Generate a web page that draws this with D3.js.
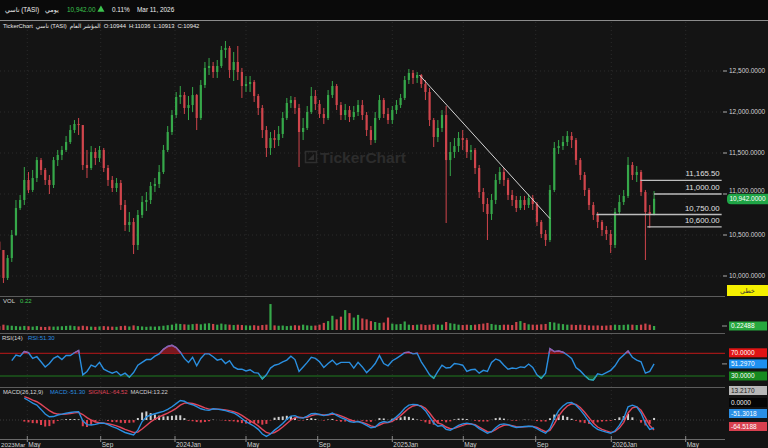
<!DOCTYPE html>
<html><head><meta charset="utf-8">
<script src="https://cdn.jsdelivr.net/npm/d3@7"></script>
<style>
html,body{margin:0;padding:0;background:#141414;}
svg{display:block;}
</style></head><body>
<svg id="c" width="768" height="448"></svg>
<script>
// ---------------- DATA (weekly) ----------------
const startDate = "2023-03-15";
const firstOpen = 10420;
const close = [10317,9976,10219,10500,10829,10927,11171,11049,11195,11414,
11293,11171,11110,11414,11476,11537,11634,11780,11854,11841,
11354,11317,11512,11439,11537,11317,11171,11073,11134,10866,
10622,10659,10378,10744,10902,10927,11098,11122,11268,11537,
11756,11963,12183,12207,12049,12085,12207,11927,12329,12537,
12561,12488,12561,12756,12781,12512,12610,12488,12317,12341,
12366,12195,12049,11780,11561,11683,11658,11732,11927,12110,
12146,12049,11756,11805,12000,12195,12098,11976,11927,12207,
12317,12085,11963,12024,11939,12000,12085,11963,11780,11658,
11927,12146,11976,11902,12024,12085,12171,12390,12476,12415,
12451,12341,12244,11902,11695,11805,11963,11414,11512,11585,
11683,11658,11512,11537,11317,11024,10878,10756,10927,11171,
11268,11171,10988,10927,10829,10927,10866,10951,10878,10659,
10512,10439,11049,11561,11585,11634,11707,11658,11414,11232,
11049,10866,10744,10659,10561,10512,10378,10780,10902,10976,
11354,11232,11268,11024,10780,10744,10942];
const high = [10476,10317,10256,10561,10927,10988,11329,11268,11293,11451,
11439,11317,11232,11451,11537,11585,11707,11841,11902,11927,
11841,11537,11585,11561,11585,11561,11354,11219,11195,11171,
10927,10780,10707,10805,10976,11024,11146,11195,11354,11598,
11829,12024,12244,12317,12244,12195,12305,12220,12390,12610,
12659,12610,12634,12805,12866,12805,12732,12805,12537,12439,
12439,12390,12220,12085,11829,11756,11780,11829,12000,12171,
12195,12183,12098,11927,12073,12305,12268,12146,12049,12268,
12378,12341,12122,12098,12073,12073,12146,12146,12000,11829,
12000,12207,12171,12049,12073,12146,12220,12439,12524,12512,
12488,12463,12390,12293,11927,11902,12024,12073,11634,11683,
11756,11780,11683,11598,11561,11354,11073,10951,11000,11244,
11329,11317,11195,11049,10976,10976,10976,11000,10988,10902,
10683,10561,11110,11634,11658,11707,11768,11756,11683,11439,
11268,11073,10902,10780,10683,10610,10561,10829,10988,11049,
11451,11390,11341,11293,11049,10866,11036];
const low = [10256,9915,9951,10171,10488,10805,10866,11012,11024,11146,
11232,11110,11000,11073,11341,11414,11512,11610,11744,11720,
11293,11195,11293,11354,11390,11268,11098,11024,11024,10805,
10549,10537,10268,10317,10707,10793,10878,11024,11073,11244,
11512,11720,11927,12098,11976,11902,12000,11780,11902,12293,
12451,12415,12415,12537,12659,12415,12378,12390,12171,12244,
12244,12122,11963,11683,11451,11476,11561,11585,11683,11902,
12049,11976,11329,11658,11780,11976,12024,11927,11854,11902,
12171,12024,11902,11902,11878,11902,11951,11902,11707,11598,
11622,11902,11927,11854,11854,11976,12049,12146,12341,12341,
12354,12293,12146,11829,11573,11634,11756,10646,11219,11439,
11512,11537,11439,11414,11244,10951,10780,10439,10683,10878,
11122,11098,10927,10854,10780,10805,10805,10829,10805,10610,
10463,10366,10415,11024,11488,11537,11585,11561,11354,11171,
10976,10805,10683,10585,10488,10439,10280,10341,10744,10866,
10951,11171,11146,10976,10195,10585,10740];
const volume = [0.22,0.30,0.26,0.24,0.22,0.20,0.23,0.21,0.19,0.22,
0.18,0.17,0.20,0.19,0.20,0.21,0.23,0.25,0.22,0.20,
0.24,0.21,0.19,0.18,0.20,0.22,0.20,0.19,0.18,0.22,
0.24,0.20,0.26,0.22,0.20,0.18,0.20,0.19,0.21,0.24,
0.27,0.30,0.36,0.34,0.32,0.30,0.33,0.35,0.32,0.36,
0.38,0.34,0.30,0.36,0.32,0.30,0.28,0.30,0.28,0.26,
0.25,0.27,0.24,0.28,0.30,1.46,0.26,0.24,0.25,0.22,
0.24,0.27,0.25,0.30,0.26,0.24,0.25,0.30,0.40,0.50,
0.80,0.60,0.75,1.12,0.95,0.70,0.85,0.65,0.60,0.50,
0.45,0.40,0.42,0.70,0.36,0.32,0.34,0.48,0.30,0.28,
0.30,0.32,0.28,0.30,0.33,0.30,0.30,0.45,0.38,0.35,
0.30,0.28,0.30,0.28,0.30,0.33,0.36,0.40,0.34,0.30,
0.28,0.30,0.30,0.28,0.45,0.50,0.40,0.32,0.30,0.30,
0.32,0.34,0.45,0.42,0.36,0.33,0.30,0.30,0.28,0.30,
0.28,0.26,0.25,0.26,0.24,0.25,0.27,0.30,0.28,0.29,
0.31,0.30,0.28,0.30,0.36,0.30,0.22488];
const rsi = [null,null,null,57,67,65,73,71,61,64,
55,46,52,61,65,59,66,66,71,75,
32,38,49,46,54,42,38,35,38,31,
35,28,36,49,54,59,59,65,69,77,
82,84,80,72,61,54,63,48,61,69,
69,64,58,60,52,57,46,42,42,39,
41,36,35,25,32,44,49,51,55,58,
65,59,38,46,54,63,61,55,45,52,
58,50,54,54,54,44,54,46,36,43,
52,66,52,48,57,61,66,71,72,69,
70,55,44,32,26,38,49,44,45,52,
51,49,38,41,42,35,40,38,54,60,
57,49,42,44,43,46,45,51,45,32,
26,35,78,73,74,72,67,61,45,39,
31,24,23,34,32,36,40,48,60,67,
74,63,58,55,35,38,51.297];
const macd = [null,null,null,null,null,null,140,125,108,96,
68,38,21,22,32,38,43,48,52,53,
-5,-30,-32,-28,-21,-20,-30,-43,-52,-66,
-80,-88,-96,-65,-10,20,32,40,48,55,
68,85,105,125,120,105,98,85,72,65,
62,72,70,66,60,52,45,30,10,-11,
-25,-40,-60,-90,-105,-90,-65,-45,-22,5,
25,28,15,12,25,40,42,35,28,35,
45,30,15,5,-10,-15,-10,-20,-35,-50,
-45,-20,-10,-15,0,20,45,75,95,100,
98,85,60,20,-20,-40,-35,-60,-65,-50,
-35,-25,-20,-25,-35,-55,-70,-85,-75,-50,
-30,-25,-30,-40,-48,-45,-42,-40,-42,-55,
-72,-85,-55,10,60,90,110,112,95,65,
30,-10,-40,-60,-70,-78,-85,-70,-35,10,
85,95,85,45,-20,-60,-51.30];
const signal = [null,null,null,null,null,null,150,140,128,117,
100,80,60,45,38,36,38,42,46,49,
35,15,0,-12,-18,-20,-24,-30,-38,-48,
-60,-70,-80,-78,-58,-35,-12,5,20,32,
44,58,75,95,108,110,106,98,88,78,
70,70,70,68,65,60,54,44,30,12,
-5,-20,-38,-60,-80,-87,-80,-65,-45,-22,
0,15,18,15,18,28,35,36,32,32,
38,36,26,15,3,-7,-10,-15,-25,-38,
-44,-32,-20,-16,-8,8,28,52,75,90,
95,90,75,45,10,-18,-28,-45,-56,-54,
-44,-34,-26,-25,-30,-45,-60,-75,-76,-62,
-45,-34,-31,-36,-43,-45,-44,-41,-41,-48,
-62,-75,-66,-25,25,62,90,104,100,80,
50,15,-20,-45,-60,-70,-79,-75,-52,-15,
45,78,85,62,15,-35,-64.52];

const priceTicks = [10000,10500,11000,11500,12000,12500];
const xTickDates = ["2023-05-01","2023-09-01","2024-01-01","2024-05-01","2024-09-01","2025-01-01","2025-05-01","2025-09-01","2026-01-01","2026-05-01"];
const xTickLabels = ["May","Sep","2024Jan","May","Sep","2025Jan","May","Sep","2026Jan","May"];
const firstTickLabel = "2023Mar";
const trendLine = [{date:"2025-02-16", value:12450},{date:"2025-09-24", value:10700}];
const levelValues = [11165.5, 11000, 10750, 10600];
const levelStarts = ["2026-02-17","2026-03-11","2025-12-08","2026-02-28"];
const levelEnd = "2026-06-28";
const lastPrice = 10942, lastVol = 0.22488, lastRsi = 51.297;
const macdTags = [{t:"13.2170",bg:"#b8b8b8",fg:"#1a1a1a"},{t:"0.0000",bg:"#050505",fg:"#eeeeee"},{t:"-51.3018",bg:"#2a8fe6",fg:"#ffffff"},{t:"-64.5188",bg:"#d8404f",fg:"#ffffff"}];

// ---------------- LAYOUT ----------------
const W = 768, H = 448, PR = 725;
const FONT = "'Liberation Sans','DejaVu Sans',sans-serif";
const parse = d3.utcParse("%Y-%m-%d");
const dates = close.map((_, i) => d3.utcDay.offset(parse(startDate), 7 * i));
const data = close.map((c, i) => {
  const o = i ? close[i - 1] : firstOpen;
  return {date: dates[i], open: o, close: c,
    high: Math.max(high[i], o, c), low: Math.min(low[i], o, c),
    vol: volume[i], rsi: rsi[i], macd: macd[i], signal: signal[i],
    hist: (macd[i] != null && signal[i] != null) ? macd[i] - signal[i] : null};
});

// trading-day based axis, calibrated at the month ticks
const x = d3.scaleUtc().domain(xTickDates.map(parse)).range([27.3,100.7,175,246,317.7,392.3,463.3,535.7,611.3,685.7]);
const yP = d3.scaleLinear().domain([10000, 12500]).range([276, 71]);
const yV = d3.scaleLinear().domain([0, 1.8]).range([330, 298]);
const yR = d3.scaleLinear().domain([30, 70]).range([376, 353.3]);
const yM = d3.scaleLinear().domain([-100, 200]).range([435.6, 388.8]);

const UP = "#36a84a", DN = "#d0454c";
const svg = d3.select("#c").attr("font-family", FONT);
svg.append("rect").attr("width", W).attr("height", H).attr("fill", "#141414");
const defs = svg.append("defs");
function clip(id, x0, y0, w, h) {
  defs.append("clipPath").attr("id", id).append("rect").attr("x", x0).attr("y", y0).attr("width", w).attr("height", h);
  return "url(#" + id + ")";
}
const cPrice = clip("cp", 0, 21, PR, 275);
const cVol = clip("cv", 0, 297, PR, 36);
const cRsi = clip("cr", 0, 334, PR, 53);
const cMacd = clip("cm", 0, 388, PR, 50);
const cAbove = clip("ca", 0, 334, PR, yR(70) - 334);
const cBelow = clip("cb", 0, yR(30), PR, 387 - yR(30));

function txt(g, xx, yy, s, fill, size, anchor, weight) {
  return g.append("text").attr("x", xx).attr("y", yy).text(s).attr("fill", fill)
    .attr("font-size", size || 6.5).attr("text-anchor", anchor || "start").attr("font-weight", weight || "normal");
}
// place texts of a row left to right, never overlapping
function row(yy, size, items) {
  let end = -1e9;
  items.forEach(it => {
    if (it.tri) {
      const cx = end + 5.5;
      svg.append("path").attr("d", d3.symbol(d3.symbolTriangle, 22)()).attr("transform", `translate(${cx},${yy - 2.4})`).attr("fill", it.fill);
      end = cx + 3.5; return;
    }
    const xx = Math.max(it.x, end + 3);
    const t = txt(svg, xx, yy, it.s, it.fill, size);
    end = xx + t.node().getComputedTextLength();
  });
}

// header
svg.append("rect").attr("width", W).attr("height", 20).attr("fill", "#0a0a0a");
svg.append("line").attr("x1", 0).attr("x2", W).attr("y1", 20.5).attr("y2", 20.5).attr("stroke", "#8c8c8c");
row(12, 6.4, [{x:5,s:"تاسي (TASI)",fill:"#f0f0f0"},{x:45,s:"يومي",fill:"#f0f0f0"},{x:67,s:"10,942.00",fill:"#3cc44e"},
  {tri:true,fill:"#3cc44e"},{x:112,s:"0.11%",fill:"#f0f0f0"},{x:137,s:"Mar 11, 2026",fill:"#f0f0f0"}]);
row(28, 5.8, [{x:3,s:"TickerChart",fill:"#e8e8e8"},{x:28,s:"تاسي (TASI)",fill:"#e8e8e8"},{x:53,s:"المؤشر العام",fill:"#e8e8e8"},
  {x:97,s:"O:10944",fill:"#e8e8e8"},{x:125,s:"H:11036",fill:"#e8e8e8"},{x:148,s:"L:10913",fill:"#e8e8e8"},{x:172,s:"C:10942",fill:"#e8e8e8"}]);

// grid
const grid = svg.append("g").attr("stroke", "#2a2a2a").attr("stroke-dasharray", "1,3");
priceTicks.forEach(v => grid.append("line").attr("x1", 0).attr("x2", PR).attr("y1", yP(v)).attr("y2", yP(v)));
xTickDates.forEach(d => {
  const xx = x(parse(d));
  if (xx < PR) grid.append("line").attr("x1", xx).attr("x2", xx).attr("y1", 22).attr("y2", 438);
});

// watermark
const wm = svg.append("g");
wm.append("rect").attr("x", 305.5).attr("y", 151.5).attr("width", 11).attr("height", 11).attr("fill", "none").attr("stroke", "#2e2e2e").attr("stroke-width", 1.5);
wm.append("path").attr("d", "M308,160 L314,154 L314,160 Z").attr("fill", "#2e2e2e");
txt(wm, 320, 163, "TickerChart", "#2c2c2c", 15.5, "start", "bold");

// separators
[296.5, 333.5, 387.5].forEach(yy => svg.append("line").attr("x1", 0).attr("x2", PR).attr("y1", yy).attr("y2", yy).attr("stroke", "#5c5c5c"));

// candles
const cw = 2.2;
const pg = svg.append("g").attr("clip-path", cPrice);
const cg = pg.selectAll("g.c").data(data).enter().append("g");
cg.append("line").attr("x1", d => x(d.date)).attr("x2", d => x(d.date))
  .attr("y1", d => yP(d.high)).attr("y2", d => yP(d.low))
  .attr("stroke", d => d.close >= d.open ? UP : DN).attr("stroke-width", 1);
cg.append("rect").attr("x", d => x(d.date) - cw / 2).attr("width", cw)
  .attr("y", d => yP(Math.max(d.open, d.close)))
  .attr("height", d => Math.max(1, Math.abs(yP(d.open) - yP(d.close))))
  .attr("fill", d => d.close >= d.open ? UP : DN);

// trend line
pg.append("line").attr("x1", x(parse(trendLine[0].date))).attr("y1", yP(trendLine[0].value))
  .attr("x2", x(parse(trendLine[1].date))).attr("y2", yP(trendLine[1].value))
  .attr("stroke", "#d4d4d4").attr("stroke-width", 1);

// levels
const xEnd = x(parse(levelEnd));
levelValues.forEach((v, i) => {
  pg.append("line").attr("x1", x(parse(levelStarts[i]))).attr("x2", xEnd).attr("y1", yP(v)).attr("y2", yP(v))
    .attr("stroke", "#bdbdbd").attr("stroke-width", 1.3);
  txt(svg, xEnd - 2, yP(v) - 4, d3.format(",.2f")(v), "#e0e0e0", 7.8, "end");
});

// price axis
priceTicks.forEach(v => {
  svg.append("line").attr("x1", 723).attr("x2", 727).attr("y1", yP(v)).attr("y2", yP(v)).attr("stroke", "#aaaaaa");
  txt(svg, 729, yP(v) + (v === 11000 ? -1.2 : 2.3), d3.format(",.4f")(v), "#d2d2d2", 6.5);
});
// last price tag
const yl = yP(lastPrice);
svg.append("rect").attr("x", 727).attr("y", yl - 5).attr("width", 44).attr("height", 10.5).attr("rx", 4).attr("fill", "#1fa546");
txt(svg, 747.5, yl + 2.5, d3.format(",.4f")(lastPrice), "#ffffff", 6.5, "middle");
// chart-type box
svg.append("rect").attr("x", 727).attr("y", 285).attr("width", 41).attr("height", 11).attr("fill", "#f5f000");
txt(svg, 747.5, 293, "خطي", "#333333", 6.5, "middle");

// volume
const vg = svg.append("g").attr("clip-path", cVol);
vg.selectAll("rect").data(data).enter().append("rect")
  .attr("x", d => x(d.date) - cw / 2).attr("width", cw)
  .attr("y", d => yV(d.vol)).attr("height", d => yV(0) - yV(d.vol))
  .attr("fill", d => d.close >= d.open ? UP : DN);
row(303, 6, [{x:3,s:"VOL",fill:"#d8d8d8"},{x:20,s:d3.format(".2f")(lastVol),fill:"#3cc44e"}]);
function tag(yy, s, bg, fg) {
  svg.append("rect").attr("x", 729).attr("y", yy - 4.5).attr("width", 38).attr("height", 9).attr("fill", bg);
  txt(svg, 731, yy + 2.2, s, fg, 6.5);
}
svg.append("line").attr("x1", 722).attr("x2", 727).attr("y1", yV(lastVol)).attr("y2", yV(lastVol)).attr("stroke", "#999");
tag(yV(lastVol), d3.format(".5f")(lastVol), "#27a83e", "#ffffff");

// RSI
const rg = svg.append("g").attr("clip-path", cRsi);
rg.append("line").attr("x1", 0).attr("x2", PR).attr("y1", yR(70)).attr("y2", yR(70)).attr("stroke", "#c01818").attr("stroke-width", 1);
rg.append("line").attr("x1", 0).attr("x2", PR).attr("y1", yR(30)).attr("y2", yR(30)).attr("stroke", "#1f7a1f").attr("stroke-width", 1);
const rd = data.filter(d => d.rsi != null);
rg.append("path").datum(rd).attr("clip-path", cAbove).attr("fill", "#7a1820")
  .attr("d", d3.area().x(d => x(d.date)).y0(yR(70)).y1(d => yR(d.rsi)));
rg.append("path").datum(rd).attr("clip-path", cBelow).attr("fill", "#1b5226")
  .attr("d", d3.area().x(d => x(d.date)).y0(yR(30)).y1(d => yR(d.rsi)));
const rline = d3.line().x(d => x(d.date)).y(d => yR(d.rsi));
rg.append("path").datum(rd).attr("fill", "none").attr("stroke", "#2a8fe0").attr("stroke-width", 1.4).attr("d", rline);
rg.append("path").datum(rd).attr("clip-path", cAbove).attr("fill", "none").attr("stroke", "#9a5aa8").attr("stroke-width", 1.4).attr("d", rline);
rg.append("path").datum(rd).attr("clip-path", cBelow).attr("fill", "none").attr("stroke", "#2aa5a0").attr("stroke-width", 1.4).attr("d", rline);
row(340, 6, [{x:2,s:"RSI(14)",fill:"#d8d8d8"},{x:28,s:"RSI:" + d3.format(".2f")(lastRsi),fill:"#2a8fe0"}]);
tag(yR(70) - 0.5, "70.0000", "#e01414", "#ffffff");
svg.append("line").attr("x1", 722).attr("x2", 727).attr("y1", yR(lastRsi)).attr("y2", yR(lastRsi)).attr("stroke", "#999");
tag(yR(lastRsi), d3.format(".4f")(lastRsi), "#1e90f0", "#ffffff");
tag(yR(30), "30.0000", "#178a1f", "#ffffff");

// MACD
const mg = svg.append("g").attr("clip-path", cMacd);
mg.append("line").attr("x1", 0).attr("x2", PR).attr("y1", yM(0)).attr("y2", yM(0)).attr("stroke", "#3a3a3a").attr("stroke-dasharray", "1,2");
const md = data.filter(d => d.macd != null);
mg.selectAll("rect").data(md).enter().append("rect")
  .attr("x", d => x(d.date) - 1).attr("width", 2)
  .attr("y", d => Math.min(yM(0), yM(d.hist))).attr("height", d => Math.abs(yM(d.hist) - yM(0)))
  .attr("fill", d => d.hist >= 0 ? "#d0d0d0" : "#e0404e");
mg.append("path").datum(md).attr("fill", "none").attr("stroke", "#e0455a").attr("stroke-width", 1.4)
  .attr("d", d3.line().x(d => x(d.date)).y(d => yM(d.signal)));
mg.append("path").datum(md).attr("fill", "none").attr("stroke", "#2a8fe0").attr("stroke-width", 1.4)
  .attr("d", d3.line().x(d => x(d.date)).y(d => yM(d.macd)));
row(394, 5.8, [{x:3,s:"MACD(26,12,9)",fill:"#d8d8d8"},{x:50,s:"MACD:-51.30",fill:"#2a8fe0"},
  {x:87,s:"SIGNAL:-64.52",fill:"#e0455a"},{x:120,s:"MACDH:13.22",fill:"#cfcfcf"}]);
[390.5, 402.5, 413.5, 426.5].forEach((yy, i) => tag(yy, macdTags[i].t, macdTags[i].bg, macdTags[i].fg));

// x axis
svg.append("line").attr("x1", 0).attr("x2", PR).attr("y1", 439.5).attr("y2", 439.5).attr("stroke", "#6a6a6a");
xTickDates.forEach((d, i) => {
  const xx = x(parse(d));
  svg.append("line").attr("x1", xx).attr("x2", xx).attr("y1", 436).attr("y2", 442).attr("stroke", "#8a8a8a");
  txt(svg, xx + 1, 447, xTickLabels[i], "#d0d0d0", 6.5);
});
txt(svg, 1, 447, firstTickLabel, "#d0d0d0", 6.2);
</script>
</body></html>
